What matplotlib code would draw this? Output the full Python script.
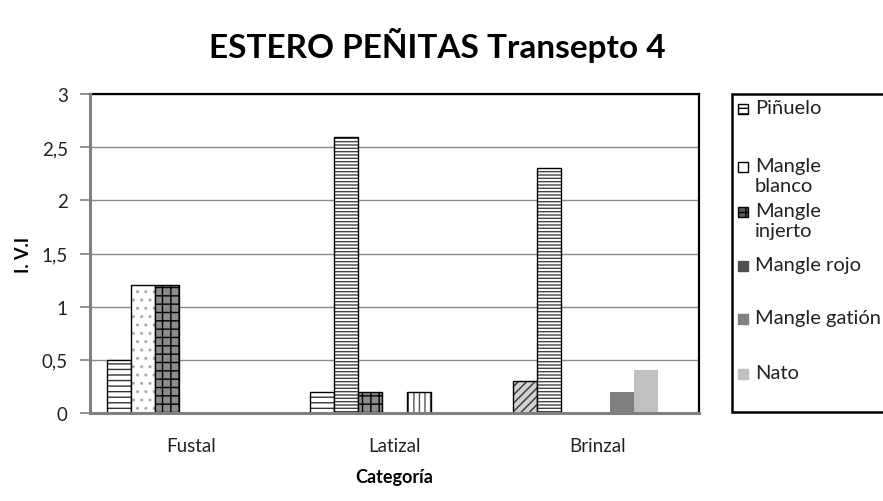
import matplotlib
matplotlib.use('Agg')
import matplotlib.pyplot as plt
import numpy as np
from matplotlib.patches import Rectangle
from matplotlib.lines import Line2D

categories = ['Fustal', 'Latizal', 'Brinzal']
series_names = ['Piñuelo', 'Mangle blanco', 'Mangle injerto',
                'Mangle rojo', 'Mangle gatión', 'Nato']
legend_labels = ['Piñuelo', 'Mangle\nblanco', 'Mangle\ninjerto',
                 'Mangle rojo', 'Mangle gatión', 'Nato']

pinuelo = [0.5, 0.2, 0.3]
mangle_blanco = [1.2, 2.6, 2.3]
mangle_injerto = [1.2, 0.2, 0.0]
mangle_rojo = [0.0, 0.0, 0.0]
mangle_gation = [0.0, 0.2, 0.2]
nato = [0.0, 0.0, 0.4]

y_ticks = [0, 0.5, 1, 1.5, 2, 2.5, 3]
y_tick_labels = ['0', '0,5', '1', '1,5', '2', '2,5', '3']

values = [pinuelo, mangle_blanco, mangle_injerto, mangle_rojo, mangle_gation, nato]

# fill style per bar (series x category): (facecolor, hatch, hatch colour, outline)
styles = [
    [('white', '---', '#333333', 'black'), ('white', '---', '#333333', 'black'),
     ('#d0d0d0', '////', '#333333', 'black')],
    [('white', '..', '#aaaaaa', 'black'), ('white', '-----', '#444444', 'black'),
     ('white', '-----', '#444444', 'black')],
    [('#8c8c8c', '++', 'black', 'black'), ('#8c8c8c', '++', 'black', 'black'),
     ('#8c8c8c', '++', 'black', 'black')],
    [('#505050', None, None, None)] * 3,
    [('#808080', None, None, None), ('white', '|||', '#555555', 'black'),
     ('#808080', None, None, None)],
    [('#c0c0c0', None, None, None)] * 3,
]
legend_styles = [
    ('white', '---', 'black'),
    ('white', None, 'black'),
    ('#5a5a5a', '++', 'black'),
    ('#505050', None, 'none'),
    ('#808080', None, 'none'),
    ('#c0c0c0', None, 'none'),
]

plt.rcParams['font.family'] = ['Lato', 'DejaVu Sans']
plt.rcParams['hatch.linewidth'] = 1.0

fig = plt.figure(figsize=(8.83, 5.02), dpi=100)
W, H = 883, 502
ax = fig.add_axes([90 / W, 1 - 414 / H, 609 / W, 319 / H])

n_slots = 7
width = 0.833 / n_slots
x = np.arange(len(categories))
for i, vals in enumerate(values):
    pos = x - 0.833 / 2 + width * (i + 0.5)
    for j in range(len(categories)):
        if vals[j] <= 0:
            continue
        fc, hatch, hc, outline = styles[i][j]
        if hatch is None:
            ax.bar(pos[j], vals[j], width, color=fc, linewidth=0, zorder=3)
            continue
        ax.bar(pos[j], vals[j], width, color=fc, hatch=hatch,
               edgecolor=hc, linewidth=0, zorder=3)
        ax.bar(pos[j], vals[j], width, fill=False, edgecolor=outline,
               linewidth=1.0, zorder=3)

ax.set_xlim(-0.5, 2.5)
ax.set_ylim(0, 3)
ax.set_yticks(y_ticks)
ax.set_yticklabels(y_tick_labels, fontsize=13.5, color='#222222')
ax.set_xticks(x)
ax.set_xticklabels(categories, fontsize=13.5, color='#222222')
ax.tick_params(axis='x', length=0, pad=17)
ax.tick_params(axis='y', length=7, color='#808080', width=1.2, pad=9)
ax.yaxis.grid(True, color='#8a8a8a', lw=1.0, zorder=0)
ax.set_axisbelow(True)
for s in ['top', 'right']:
    ax.spines[s].set_color('black')
    ax.spines[s].set_linewidth(1.6)
for s in ['left', 'bottom']:
    ax.spines[s].set_color('#808080')
    ax.spines[s].set_linewidth(2.2)
    ax.spines[s].set_zorder(4)

ax.set_xlabel('Categoría', fontsize=13, fontweight='bold', labelpad=10)
ax.set_ylabel('I. V.I', fontsize=13, fontweight='bold', labelpad=7)

fig.text(437 / W, 1 - 45 / H, 'ESTERO PEÑITAS Transepto 4', fontsize=24,
         fontweight='bold', ha='center', va='center')

# legend frame drawn by hand: open on the right, cut off like the original
lx0, lx1, ly0, ly1 = 732 / W, 1.0, 1 - 413 / H, 1 - 95 / H
fig.add_artist(Line2D([lx1, lx0, lx0, lx1], [ly1, ly1, ly0, ly0],
                      transform=fig.transFigure, color='black', lw=1.8,
                      solid_capstyle='butt', solid_joinstyle='miter'))
entry_y = [110, 168, 213, 267, 320, 375]
for lab, (fc, hatch, ec), yy in zip(legend_labels, legend_styles, entry_y):
    fig.patches.append(Rectangle((738 / W, 1 - (yy + 5) / H), 10 / W, 10 / H,
                                 transform=fig.transFigure, facecolor=fc,
                                 hatch=hatch, edgecolor=ec if ec != 'none' else fc,
                                 linewidth=1.0))
    fig.text(755 / W, 1 - (yy - 10) / H, lab, fontsize=14.5, ha='left', va='top',
             color='#222222', linespacing=1.2)

fig.savefig('out.png', dpi=100)
